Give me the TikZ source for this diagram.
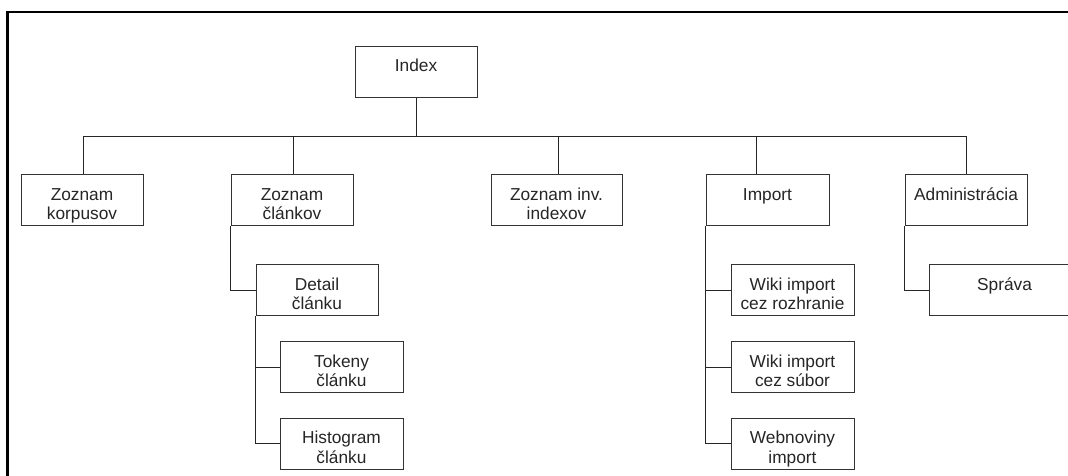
\documentclass[tikz,border=0pt]{standalone}
\usepackage{fontspec}
\setmainfont{Liberation Sans}
\newcommand{\boxtxt}[2]{\rule{0pt}{25.5pt}#1\\#2\rule[-6pt]{0pt}{6pt}}
\tikzset{
  pg/.style={draw=black!80, line width=1pt, fill=white, inner sep=0pt,
    minimum height=50pt, minimum width=122pt, align=center,
    text=black!85, font=\fontsize{17.3}{19.5}\selectfont},
  conn/.style={draw=black!85, line width=1pt},
  frame/.style={draw=black, line width=2.6pt}
}
\begin{document}
\begin{tikzpicture}[x=1pt,y=-1pt]
\useasboundingbox (0,0) rectangle (1068,476);
\clip (0,0) rectangle (1068,476);
\fill[white] (0,0) rectangle (1068,476);
\draw[frame] (7.5,520) |- (1120,12);

% nodes
\node[pg] (idx)  at (416,72)    {\boxtxt{Index}{}};
\node[pg] (korp) at (82,200)    {\boxtxt{Zoznam}{korpusov}};
\node[pg] (clank) at (292,200)  {\boxtxt{Zoznam}{článkov}};
\node[pg, minimum width=131pt] (inv) at (556.5,200) {\boxtxt{Zoznam inv.}{indexov}};
\node[pg, minimum width=123pt] (imp) at (767.5,200) {\boxtxt{Import}{}};
\node[pg] (adm)  at (966,200)   {\boxtxt{Administrácia}{}};
\node[pg] (det)  at (317,290)   {\boxtxt{Detail}{článku}};
\node[pg, minimum width=123pt] (tok)  at (341.5,367) {\boxtxt{Tokeny}{článku}};
\node[pg, minimum width=123pt] (hist) at (341.5,443.5) {\boxtxt{Histogram}{článku}};
\node[pg, minimum width=123pt] (wr) at (792.5,290) {\boxtxt{Wiki import}{cez rozhranie}};
\node[pg, minimum width=123pt] (ws) at (792.5,367) {\boxtxt{Wiki import}{cez súbor}};
\node[pg, minimum width=123pt] (wn) at (792.5,443.5) {\boxtxt{Webnoviny}{import}};
\node[pg, minimum width=150pt, anchor=west] (spr) at (929,290) {\boxtxt{Správa}{}};

% connectors
\draw[conn] (idx.south) -- ++(0,39) coordinate (bus);
\draw[conn] ([xshift=1pt]korp.north) |- (bus);
\draw[conn] ([xshift=1pt]clank.north) |- (bus);
\draw[conn] ([xshift=1.5pt]inv.north) |- (bus);
\draw[conn] ([xshift=-11.5pt]imp.north) |- (bus);
\draw[conn] (adm.north) |- (bus);

\draw[conn] (clank.south west) |- (det.west);
\draw[conn] (det.south west) |- (tok.west);
\draw[conn] (det.south west) |- (hist.west);
\draw[conn] (imp.south west) |- (wr.west);
\draw[conn] (imp.south west) |- (ws.west);
\draw[conn] (imp.south west) |- (wn.west);
\draw[conn] (adm.south west) |- (spr.west);
\end{tikzpicture}
\end{document}
